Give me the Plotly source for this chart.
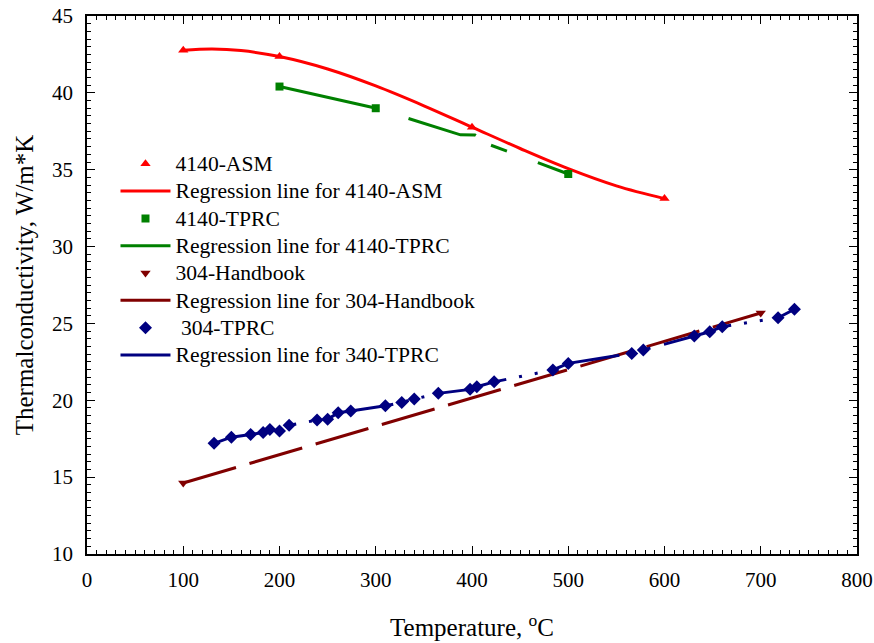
import plotly.graph_objects as go

# ---------------- data ----------------
asm_x = [100, 200, 400, 600]
asm_y = [42.77, 42.36, 37.77, 33.12]

asm_fit_x = [100, 130, 160, 200, 250, 300, 350, 400, 450, 500, 550, 600]
asm_fit_y = [42.77, 42.85, 42.75, 42.36, 41.55, 40.45, 39.16, 37.77, 36.38, 35.07, 33.95, 33.12]

tprc4140_x = [200, 300, 500]
tprc4140_y = [40.41, 39.0, 34.72]

tprc4140_fit_x = [200, 300, 388, 403, 419, 500]
tprc4140_fit_y = [40.41, 39.0, 37.27, 37.26, 36.61, 34.72]

hb_x = [100, 700]
hb_y = [14.62, 25.68]

tprc304_x = [132, 150, 170, 183, 190, 200, 210, 239, 250, 261, 274, 310, 327, 340,
             365, 398, 405, 423, 484, 500, 566, 578, 631, 647, 660, 718, 735]
tprc304_y = [17.2, 17.6, 17.78, 17.9, 18.1, 18.0, 18.37, 18.71, 18.76, 19.19, 19.3, 19.64, 19.86, 20.08,
             20.45, 20.71, 20.88, 21.2, 21.97, 22.4, 23.05, 23.27, 24.18, 24.46, 24.79, 25.37, 25.92]

names = ["4140-ASM", "Regression line for 4140-ASM",
         "4140-TPRC", "Regression line for 4140-TPRC",
         "304-Handbook", "Regression line for 304-Handbook",
         "\u00a0304-TPRC", "Regression line for 340-TPRC"]

RED, GREEN, MAROON, NAVY = "#FF0000", "#008000", "#800000", "#000080"
FONT = "Liberation Serif"


def lab(s):
    return '<span style="font-size:21.6px">' + s + '</span>'


fig = go.Figure()
fig.add_trace(go.Scatter(x=asm_x, y=asm_y, mode="markers", name=lab(names[0]),
                         marker=dict(symbol="triangle-up", size=9, color=RED)))
fig.add_trace(go.Scatter(x=asm_fit_x, y=asm_fit_y, mode="lines", name=lab(names[1]),
                         line=dict(color=RED, width=3, shape="spline")))
fig.add_trace(go.Scatter(x=tprc4140_x, y=tprc4140_y, mode="markers", name=lab(names[2]),
                         marker=dict(symbol="square", size=8, color=GREEN)))
fig.add_trace(go.Scatter(x=tprc4140_fit_x, y=tprc4140_fit_y, mode="lines", name=lab(names[3]),
                         line=dict(color=GREEN, width=3,
                                   dash="98px,35px,70px,18px,17px,33px,60px")))
fig.add_trace(go.Scatter(x=hb_x, y=hb_y, mode="markers", name=lab(names[4]),
                         marker=dict(symbol="triangle-down", size=9, color=MAROON)))
fig.add_trace(go.Scatter(x=hb_x, y=hb_y, mode="lines", name=lab(names[5]),
                         line=dict(color=MAROON, width=3, dash="55px,14px")))
fig.add_trace(go.Scatter(x=tprc304_x, y=tprc304_y, mode="markers", name=lab(names[6]),
                         marker=dict(symbol="diamond", size=10, color=NAVY)))
fig.add_trace(go.Scatter(x=tprc304_x, y=tprc304_y, mode="lines", name=lab(names[7]),
                         line=dict(color=NAVY, width=3,
                                   dash="70px,13px,3px,13px,3px,14px")))

axis_common = dict(
    showline=True, linecolor="black", linewidth=1.5, mirror="allticks",
    ticks="inside", ticklen=8, tickwidth=1.3, tickcolor="black",
    showgrid=False, zeroline=False,
    tickfont=dict(family=FONT, size=21, color="black"),
)

fig.update_xaxes(range=[0, 800], dtick=100, tick0=0,
                 minor=dict(dtick=10, ticks="inside", ticklen=4, tickwidth=1.2, tickcolor="black"),
                 ticklabelstandoff=6,
                 title=dict(text="Temperature, <sup>o</sup>C", standoff=28,
                            font=dict(family=FONT, size=25, color="black")),
                 **axis_common)
fig.update_yaxes(range=[10, 45], dtick=5, tick0=10,
                 minor=dict(dtick=0.5, ticks="inside", ticklen=4, tickwidth=1.2, tickcolor="black"),
                 ticklabelstandoff=8,
                 title=dict(text="Thermalconductivity, W/m*K", standoff=11,
                            font=dict(family=FONT, size=25, color="black")),
                 **axis_common)

fig.update_layout(
    width=874, height=643,
    margin=dict(l=87, r=17, t=16, b=89, autoexpand=False),
    paper_bgcolor="white", plot_bgcolor="white",
    font=dict(family=FONT, color="black"),
    legend=dict(x=0.037, y=0.760, xanchor="left", yanchor="top",
                bgcolor="rgba(0,0,0,0)", borderwidth=0, itemwidth=50,
                tracegroupgap=0,
                font=dict(family=FONT, size=18.7, color="black")),
    showlegend=True,
)

fig.write_html("out.html", config={"displayModeBar": False},
               post_script="document.body.style.margin='0';document.body.style.overflow='hidden';")
